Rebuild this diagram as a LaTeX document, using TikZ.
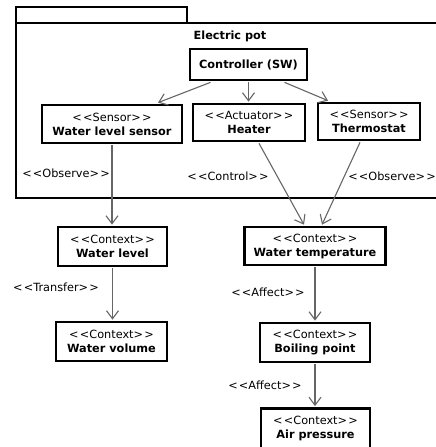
\documentclass[tikz,border=0pt]{standalone}
\usepackage{fontspec}
\setmainfont{DejaVu Sans}
\usetikzlibrary{arrows.meta}
\newcommand{\st}[1]{<\kern1.2pt<#1>\kern1.2pt>}
\begin{document}
\begin{tikzpicture}[x=1pt,y=-1pt,
  box/.style={draw=black,line width=2.7pt,fill=white,align=center,inner sep=0pt,
    font=\fontsize{11.3}{14}\selectfont},
  conn/.style={draw=black!60,line width=1.1pt,-{Straight Barb[length=8pt,width=12pt,line width=1.1pt]}},
  lbl/.style={font=\fontsize{11.3}{13}\selectfont,inner sep=0pt}]
\useasboundingbox (0,0) rectangle (436,447);
\clip (0,0) rectangle (436,447);
% package frame
\draw[line width=2pt] (16,23) -- (16,7) -- (187,7) -- (187,23);
\draw[line width=2.6pt] (446,23) -- (16,23) -- (16,198) -- (446,198);
\node[lbl,font=\fontsize{11.3}{13}\selectfont\bfseries] (title) at (230,36) {Electric pot};
% nodes
\node[box,minimum width=117pt,minimum height=31pt] (ctrl) at (248.5,64.5) {\bfseries Controller (SW)};
\node[box,minimum width=140pt,minimum height=38pt] (wls) at (112,124) {\st{Sensor}\\\bfseries Water level sensor};
\node[box,minimum width=112pt,minimum height=37pt] (heat) at (249,122.5) {\st{Actuator}\\\bfseries Heater};
\node[box,minimum width=102pt,minimum height=37pt] (thermo) at (369,121.5) {\st{Sensor}\\\bfseries Thermostat};
\node[box,minimum width=109pt,minimum height=39pt] (wl) at (112.5,246.5) {\st{Context}\\\bfseries Water level};
\node[box,minimum width=141pt,minimum height=38pt] (wt) at (315,246) {\st{Context}\\\bfseries Water temperature};
\node[box,minimum width=111pt,minimum height=39pt] (wv) at (111.5,341.5) {\st{Context}\\\bfseries Water volume};
\node[box,minimum width=110pt,minimum height=39pt] (bp) at (315,342.5) {\st{Context}\\\bfseries Boiling point};
\node[box,minimum width=109pt,minimum height=40pt] (ap) at (315.5,428.5) {\st{Context}\\\bfseries Air pressure};
% connectors
\draw[conn] ([xshift=-38pt,yshift=-1pt]ctrl.south) -- ([xshift=46pt,yshift=1pt]wls.north);
\draw[conn] ([yshift=-1pt]ctrl.south) -- ([yshift=1pt]ctrl.south |- heat.north);
\draw[conn] ([xshift=36pt,yshift=-1pt]ctrl.south) -- ([xshift=-41pt,yshift=1pt]thermo.north);
\draw[conn] ([yshift=-1pt]wls.south) -- ([yshift=1pt]wls.south |- wl.north);
\draw[conn] ([xshift=10pt,yshift=-1pt]heat.south) -- ([xshift=-11pt,yshift=1pt]wt.north);
\draw[conn] ([xshift=-9pt,yshift=-1pt]thermo.south) -- ([xshift=7pt,yshift=1pt]wt.north);
\draw[conn] ([yshift=-1pt]wl.south) -- ([yshift=1pt]wl.south |- wv.north);
\draw[conn] ([yshift=-1pt]wt.south) -- ([yshift=1pt]wt.south |- bp.north);
\draw[conn] ([yshift=-1pt]bp.south) -- ([yshift=1pt]bp.south |- ap.north);
% labels
\node[lbl] (l1) at (66,173) {\st{Observe}};
\node[lbl] (l2) at (228,176) {\st{Control}};
\node[lbl] (l3) at (392,176) {\st{Observe}};
\node[lbl] (l4) at (56,287) {\st{Transfer}};
\node[lbl] (l5) at (268,292) {\st{Affect}};
\node[lbl] (l6) at (265,385) {\st{Affect}};
\end{tikzpicture}
\end{document}
